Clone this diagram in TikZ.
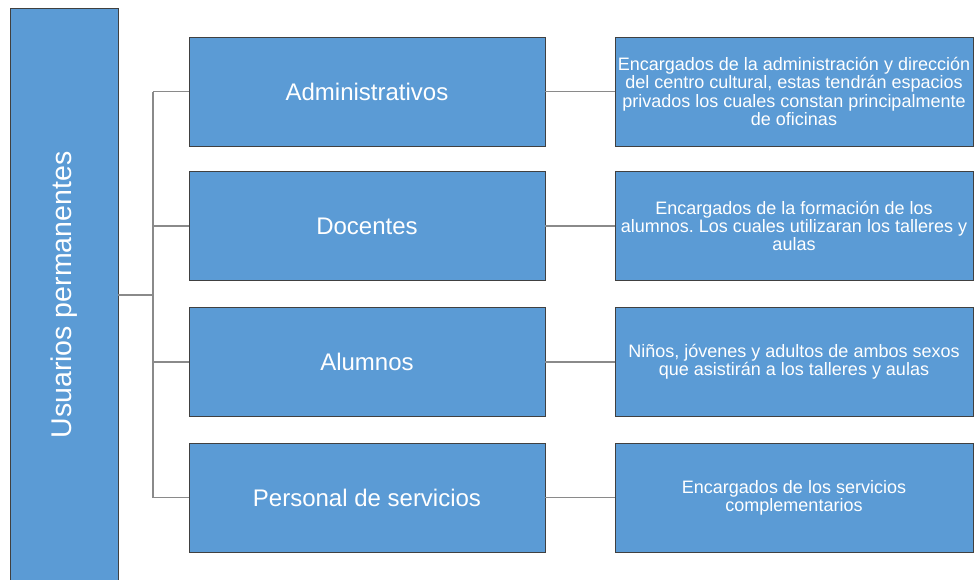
\documentclass[tikz,border=0pt]{standalone}
\usepackage{fontspec}
\setmainfont{Liberation Sans}
\usetikzlibrary{positioning}
\definecolor{boxblue}{HTML}{5B9BD5}
\definecolor{linkgray}{HTML}{8A8A8A}
\frenchspacing

\begin{document}
\begin{tikzpicture}[x=1pt, y=-1pt,
  every node/.style={text=white},
  box/.style={draw=black!75, line width=0.8pt, fill=boxblue, inner sep=1pt, align=center},
  rolebox/.style={box, minimum width=356pt, minimum height=109pt, font=\fontsize{24}{28}\selectfont},
  descbox/.style={box, minimum width=358pt, minimum height=109pt, font=\fontsize{18}{18.3}\selectfont},
  link/.style={draw=linkgray, line width=1.3pt}]

\useasboundingbox[fill=white] (0,0) rectangle (974,579);

% left column
\node[box, rotate=90, minimum width=574pt, minimum height=108pt,
      font=\fontsize{28.5}{32}\selectfont] (usu) at (64,295) {Usuarios permanentes};

% user groups
\node[rolebox] (adm) at (367,91.5)  {Administrativos};
\node[rolebox] (doc) at (367,226)   {Docentes};
\node[rolebox] (alu) at (367,362)   {Alumnos};
\node[rolebox] (per) at (367,497.5) {Personal de servicios};

% descriptions
\node[descbox] (dadm) at (794,91.5)  {Encargados de la administración y dirección\\del centro cultural, estas tendrán espacios\\privados los cuales constan principalmente\\de oficinas};
\node[descbox] (ddoc) at (794,226)   {Encargados de la formación de los\\alumnos. Los cuales utilizaran los talleres y\\aulas};
\node[descbox] (dalu) at (794,362)   {Niños, jóvenes y adultos de ambos sexos\\que asistirán a los talleres y aulas};
\node[descbox] (dper) at (794,497.5) {Encargados de los servicios\\complementarios};

\coordinate (bus) at (153,295);

% tree lines
\draw[link] (usu.south) -- (bus);
\draw[link] (adm.west -| bus) -- (per.west -| bus);
\draw[link] (adm.west -| bus) -- (adm.west);
\draw[link] (doc.west -| bus) -- (doc.west);
\draw[link] (alu.west -| bus) -- (alu.west);
\draw[link] (per.west -| bus) -- (per.west);

\draw[link] (adm.east) -- (dadm.west);
\draw[link] (doc.east) -- (ddoc.west);
\draw[link] (alu.east) -- (dalu.west);
\draw[link] (per.east) -- (dper.west);

\end{tikzpicture}
\end{document}
